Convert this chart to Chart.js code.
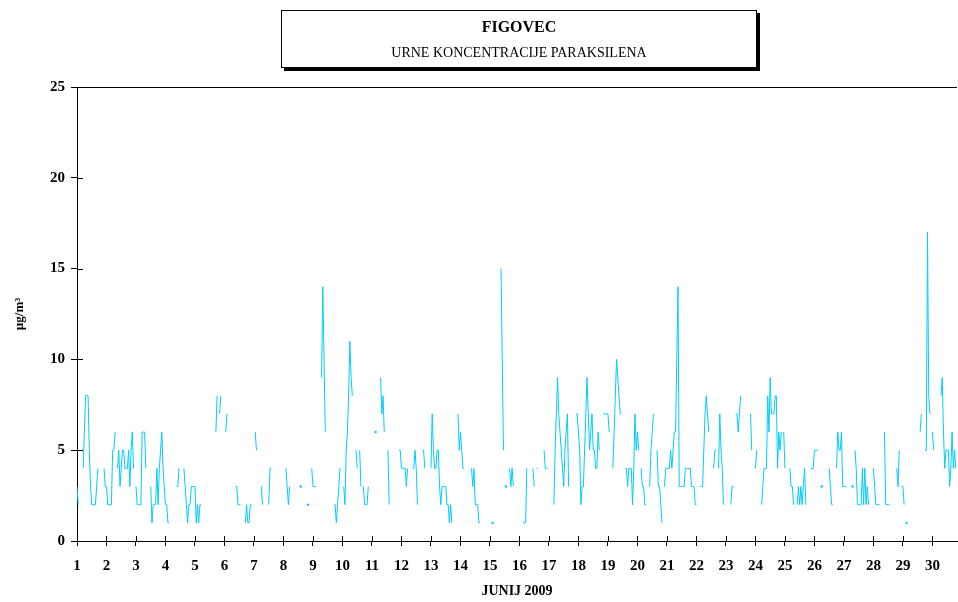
<!DOCTYPE html>
<html>
<head>
<meta charset="utf-8">
<script src="https://cdn.jsdelivr.net/npm/chart.js@4"></script>
<style>
  body { margin: 0; background: #fff; }
  #wrap { position: relative; width: 958px; height: 602px; }
  #titleBox {
    position: absolute; left: 281px; top: 10px; width: 474px; height: 56px;
    border: 1px solid #000; box-shadow: 3px 3px 0 #000; background: #fff;
    font-family: "Liberation Serif", "Times New Roman", serif; color: #000; text-align: center;
  }
  #titleBox .t1 { position: absolute; left: 0; right: 0; top: 7px; font-size: 16px; font-weight: bold; }
  #titleBox .t2 { position: absolute; left: 0; right: 0; top: 34px; font-size: 14px; }
</style>
</head>
<body>
<div id="wrap">
  <canvas id="chart" width="958" height="602"></canvas>
  <div id="titleBox">
    <div class="t1">FIGOVEC</div>
    <div class="t2">URNE KONCENTRACIJE PARAKSILENA</div>
  </div>
</div>
<script>
// hourly values for June 2009, one row of 24 hours per day (null = no measurement)
const _ = null;
const dayValues = [
  /* 1 */ [3,2,_,_,_,4,6,8,8,8,5,3,2,2,2,2,3,4,_,_,_,_,4,3],
  /* 2 */ [3,2,2,2,2,5,5,6,_,4,5,3,4,5,5,4,4,4,5,3,5,6,4,_],
  /* 3 */ [3,2,2,2,2,6,6,6,4,_,_,_,3,1,2,2,2,4,2,4,5,6,4,3],
  /* 4 */ [2,2,1,1,_,_,_,_,_,3,3,4,_,_,_,4,3,2,1,2,2,3,3,3],
  /* 5 */ [3,1,2,1,2,2,_,_,_,_,_,_,_,_,_,_,_,6,8,_,7,8,_,_],
  /* 6 */ [_,6,7,_,_,_,_,_,_,3,3,2,2,2,_,_,_,1,2,1,1,2,2,_],
  /* 7 */ [_,6,5,_,_,_,3,2,_,_,_,_,2,4,4,_,_,_,_,_,_,_,_,_],
  /* 8 */ [_,_,4,3,2,3,_,_,_,_,_,_,_,_,3,_,_,_,_,_,2,_,_,4],
  /* 9 */ [3,3,3,3,_,_,_,9,14,10,6,_,_,_,_,_,_,2,2,1,2,3,4,_],
  /* 10 */ [_,3,2,5,6,8,11,9,8,_,_,5,4,_,5,3,_,3,2,2,2,3,_,_],
  /* 11 */ [_,_,_,6,_,_,_,9,7,8,6,_,_,5,2,_,_,_,_,_,_,_,5,5],
  /* 12 */ [4,4,4,4,3,4,_,_,_,4,4,5,4,2,_,_,_,5,5,4,_,_,_,_],
  /* 13 */ [4,7,5,4,4,5,5,3,2,3,3,3,3,2,2,1,2,1,_,_,_,_,7,5],
  /* 14 */ [6,5,4,4,_,_,_,_,_,4,3,4,2,2,2,1,1,_,_,_,_,_,_,_],
  /* 15 */ [_,_,1,_,_,_,_,_,_,15,10,5,_,3,_,_,4,3,4,3,_,_,_,_],
  /* 16 */ [_,_,_,1,1,1,4,_,_,_,_,4,3,_,4,4,_,_,_,_,5,4,4,4],
  /* 17 */ [_,_,_,_,2,5,7,9,7,6,5,4,3,5,6,7,3,_,_,_,_,_,7,7],
  /* 18 */ [6,5,2,3,3,5,7,9,7,5,6,7,5,5,4,4,6,5,_,_,7,7,7,7],
  /* 19 */ [7,6,_,_,4,6,8,10,9,8,7,7,_,_,4,4,3,4,4,4,2,4,7,5],
  /* 20 */ [6,5,_,4,3,3,2,2,_,_,3,5,6,7,_,_,5,3,3,2,1,_,3,4],
  /* 21 */ [4,4,4,5,4,5,6,6,10,14,3,3,3,3,3,4,4,4,4,4,3,3,3,2],
  /* 22 */ [2,_,_,3,3,3,5,7,8,7,6,_,_,_,4,5,5,_,4,7,5,4,2,_],
  /* 23 */ [_,_,_,_,2,3,3,_,7,7,6,7,8,_,_,_,_,_,_,_,7,5,_,_],
  /* 24 */ [4,5,_,_,_,2,3,4,4,4,8,6,9,7,7,7,8,8,4,6,5,6,_,6],
  /* 25 */ [4,_,_,_,4,3,3,2,_,_,2,3,2,3,2,3,4,2,_,_,_,4,4,4],
  /* 26 */ [5,5,5,5,_,_,3,_,_,_,_,_,4,3,2,2,_,_,4,6,5,5,6,3],
  /* 27 */ [3,3,3,_,_,_,_,3,_,5,4,2,2,2,2,4,2,4,2,3,2,_,_,_],
  /* 28 */ [4,3,2,2,2,2,_,_,_,6,2,2,2,2,_,_,_,_,_,4,3,5,_,3],
  /* 29 */ [3,2,_,1,_,_,_,_,_,_,_,_,_,_,6,7,_,_,5,5,17,8,7,_],
  /* 30 */ [6,5,_,_,_,_,_,8,9,6,4,5,5,5,3,4,6,4,5,4,_,_,_,_]
];
const dayTicks = [1,2,3,4,5,6,7,8,9,10,11,12,13,14,15,16,17,18,19,20,21,22,23,24,25,26,27,28,29,30];
const yTicks = [0, 5, 10, 15, 20, 25];

const hourly = dayValues.flat();
const points = hourly.map((v, i) => ({ x: i, y: v }));

const SERIF = '"Liberation Serif", "Times New Roman", serif';
const LINE = '#00CCFF';

// top frame line and the inner half of each tick mark
const framePlugin = {
  id: 'frame',
  afterDraw(chart) {
    const { ctx, chartArea: a, scales } = chart;
    ctx.save();
    ctx.strokeStyle = '#000';
    ctx.lineWidth = 1;
    ctx.beginPath();
    ctx.moveTo(a.left, a.top + 0.5);
    ctx.lineTo(a.right, a.top + 0.5);
    yTicks.forEach(t => {
      const y = Math.round(scales.y.getPixelForValue(t)) + 0.5;
      ctx.moveTo(a.left, y);
      ctx.lineTo(a.left + 6, y);
    });
    dayTicks.forEach(d => {
      const x = Math.round(scales.x.getPixelForValue((d - 1) * 24)) + 0.5;
      ctx.moveTo(x, a.bottom);
      ctx.lineTo(x, a.bottom - 5);
    });
    ctx.stroke();
    ctx.restore();
  }
};

new Chart(document.getElementById('chart'), {
  type: 'line',
  data: {
    datasets: [{
      data: points,
      borderColor: LINE,
      backgroundColor: LINE,
      borderWidth: 1,
      spanGaps: false,
      tension: 0,
      // a lone hour between two gaps still shows as a small dot
      pointRadius: c => {
        const i = c.dataIndex;
        if (hourly[i] == null) return 0;
        return (hourly[i - 1] == null && hourly[i + 1] == null) ? 1.2 : 0;
      },
      pointBorderWidth: 0
    }]
  },
  options: {
    responsive: false,
    animation: false,
    layout: { padding: { top: 87, right: 1, left: 0, bottom: 0 } },
    plugins: { legend: { display: false }, tooltip: { enabled: false } },
    scales: {
      x: {
        type: 'linear',
        min: 0,
        max: 716,
        afterBuildTicks: s => { s.ticks = dayTicks.map(d => ({ value: (d - 1) * 24 })); },
        afterFit: s => { s.height = 61; },
        ticks: {
          autoSkip: false,
          maxRotation: 0,
          padding: 11,
          color: '#000',
          font: { family: SERIF, size: 15, weight: 'bold' },
          callback: v => v / 24 + 1
        },
        grid: { drawOnChartArea: false, tickLength: 5, color: '#000' },
        border: { color: '#000', width: 1 },
        title: {
          display: true,
          text: 'JUNIJ 2009',
          color: '#000',
          font: { family: SERIF, size: 14, weight: 'bold' },
          padding: { top: 0, bottom: 2 }
        }
      },
      y: {
        min: 0,
        max: 25,
        afterBuildTicks: s => { s.ticks = yTicks.map(v => ({ value: v })); },
        afterFit: s => { s.width = 77; },
        ticks: {
          padding: 6,
          color: '#000',
          font: { family: SERIF, size: 15, weight: 'bold' }
        },
        grid: { drawOnChartArea: false, tickLength: 6, color: '#000' },
        border: { color: '#000', width: 1 },
        title: {
          display: true,
          text: 'µg/m³',
          color: '#000',
          font: { family: SERIF, size: 13, weight: 'bold' },
          padding: { top: 12, bottom: 0 }
        }
      }
    }
  },
  plugins: [framePlugin]
});
</script>
</body>
</html>
